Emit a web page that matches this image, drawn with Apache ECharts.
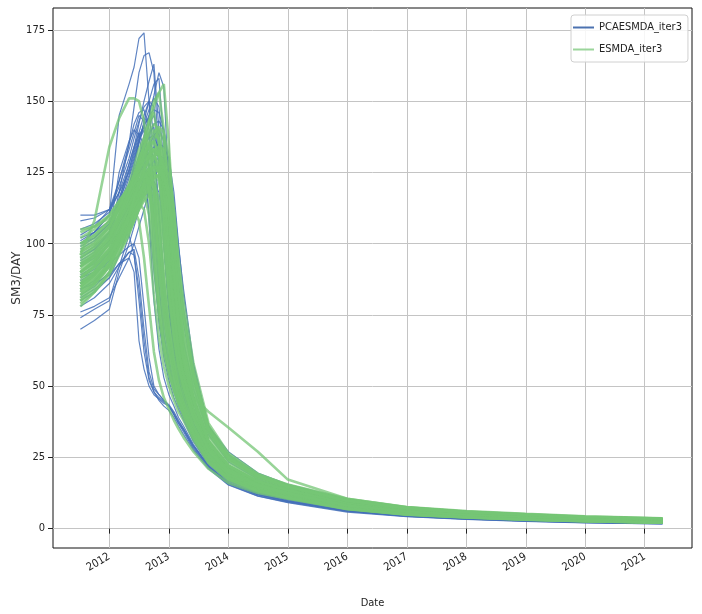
<!DOCTYPE html>
<html>
<head>
<meta charset="utf-8">
<script src="https://cdn.jsdelivr.net/npm/echarts@6/dist/echarts.min.js"></script>
<style>
html,body{margin:0;padding:0;background:#fff;}
#chart{width:702px;height:614px;}
</style>
</head>
<body>
<div id="chart"></div>
<script>
// Sample dates (shared by every ensemble member)
const dates = ['2011-07-07','2011-10-01','2012-01-01','2012-03-01','2012-05-01','2012-06-01','2012-07-01','2012-08-01',
  '2012-09-01','2012-10-01','2012-11-01','2012-12-01','2013-01-01','2013-02-01','2013-03-01','2013-04-01',
  '2013-06-01','2013-09-01','2014-01-01','2014-07-01','2015-01-01','2016-01-01','2017-01-01','2018-01-01',
  '2019-01-01','2020-01-01','2021-04-20'];

const yearTicks = [2012,2013,2014,2015,2016,2017,2018,2019,2020,2021];
const yTicks = [0,25,50,75,100,125,150,175];

// PCAESMDA_iter3 ensemble members (SM3/DAY)
const pcaMembers = [
  [100,104,110,145,156,162,172,174,150,120,95,78,66,56,48,42, 33,24,17.5,13,10.5,7,5.1,4,3.2,2.6,2.1],
  [95,98,103,118,135,148,160,166,167,160,130,100,78,62,52,45, 35,26,18.8,14,11.2,7.4,5.4,4.2,3.4,2.8,2.3],
  [105,107,111,118,128,134,142,150,157,163,140,100,76,62,52,46, 35,25.5,18.5,13.8,11,7.2,5.2,4.1,3.3,2.7,2.2],
  [92,96,101,110,120,127,135,143,150,156,158,135,100,78,63,54, 41,29,21,15.6,12.4,8.1,5.9,4.6,3.7,3.1,2.5],
  [110,110,112,120,130,137,143,148,150,138,110,85,68,57,49,43, 34,25,18.2,13.6,10.9,7.1,5.2,4.1,3.3,2.7,2.2],
  [103,106,112,122,133,139,145,143,128,105,84,68,58,50,44,40, 31.5,23.5,17.2,13,10.5,6.9,5,3.9,3.1,2.6,2.1],
  [98,101,106,112,118,122,125,128,130,131,131,130,127,115,99,84, 58,36,27,19.5,15.5,10.2,7.3,5.8,4.8,4,3.3],
  [90,94,100,107,114,119,124,129,134,138,140,136,122,104,86,72, 52,34,24.5,18,14.5,9.6,7,5.6,4.6,3.8,3.2],
  [84,86,89,93,95,90,66,56,50,47,45.5,44,43,40,37,34, 28,21.5,15.5,11.5,9.3,6,4.3,3.3,2.6,2.1,1.7],
  [78,81,86,92,97,98,88,70,55,49,47,45,43.5,41,38,35, 29,22,16,12,9.6,6.2,4.4,3.4,2.7,2.2,1.8],
  [88,90,93,96,99,100,95,78,60,50,47,45,43,40,37,34.5, 28.5,21.5,15.8,11.8,9.5,6.1,4.4,3.4,2.7,2.2,1.75],
  [70,73,77,90,100,106,112,118,122,118,100,80,65,55,48,42, 33,24,17.5,13.2,10.7,7,5.1,4,3.2,2.6,2.1],
  [74,77,80,92,103,110,117,124,130,133,125,100,78,63,53,46, 36,26,19,14.2,11.4,7.4,5.4,4.2,3.4,2.8,2.3],
  [76,78,81,88,95,100,106,112,118,122,118,102,82,66,55,48, 37,26.5,19.2,14.4,11.6,7.5,5.5,4.3,3.5,2.9,2.3],
  [82,85,90,100,112,120,128,136,142,145,138,115,88,70,58,50, 39,28,20.2,15,12,7.8,5.7,4.5,3.6,3.0,2.4],
  [108,109,112,118,125,131,137,142,144,135,110,86,69,58,50,44, 34.5,25,18.3,13.7,11,7.2,5.2,4.1,3.3,2.7,2.2],
  [86,89,95,104,114,121,128,134,139,141,128,102,80,65,55,48, 37,26.5,19.3,14.4,11.6,7.6,5.5,4.3,3.5,2.9,2.3],
  [100,102,107,116,126,132,138,141,137,118,92,72,60,51,45,41, 32,23.5,17.3,13,10.5,6.9,5,3.9,3.1,2.6,2.1],
  [92,95,100,104,103,96,80,62,52,48,46,44.5,43,40.5,37.5,35, 29,22,16,12,9.7,6.3,4.5,3.5,2.8,2.3,1.8],
  [80,83,88,96,106,113,121,128,134,130,112,88,70,58,50,44, 34.5,25,18.3,13.7,11,7.2,5.2,4.1,3.3,2.7,2.2],
  [96,99,104,113,123,129,136,142,147,151,148,128,98,76,62,53, 40,28.5,20.6,15.3,12.2,8,5.8,4.6,3.7,3.1,2.5],
  [89,92,97,105,115,122,130,138,145,152,160,155,120,90,70,58, 44,30.5,22,16.3,13,8.5,6.2,4.9,4,3.3,2.7],
  [94,97,104,125,136,140,138,128,110,90,74,62,54,48,43,39, 31,23,16.9,12.7,10.3,6.7,4.9,3.8,3.0,2.5,2.0],
  [84,87,92,100,110,118,126,133,138,142,143,140,125,100,80,66, 49,33,23.5,17.4,14,9.2,6.7,5.3,4.3,3.6,3.0],
  [102,104,108,114,121,126,131,135,137,138,133,116,92,74,61,52, 40,28,20.4,15.2,12.2,8,5.8,4.6,3.7,3.1,2.5],
  [81,84,88,93,97,96,84,66,53,48,45,43,41.5,39,36,33, 27.5,21,15.3,11.4,9.1,5.8,4.2,3.2,2.5,2.05,1.65],
  [88,91,97,108,120,128,136,140,125,95,72,60,52,46,42,38, 30.5,22.5,16.6,12.5,10.1,6.6,4.8,3.7,3.0,2.4,1.9],
  [95,98,104,114,126,133,139,134,108,80,63,53,47,43,39,36, 29.5,22,16.2,12.2,9.8,6.4,4.6,3.6,2.9,2.3,1.85],
  [86,89,94,102,112,118,124,128,128,112,86,68,57,50,45,41, 32,23.5,17.2,13,10.5,6.9,5,3.9,3.1,2.6,2.1],
  [93,96,101,108,115,120,125,129,132,134,135,134,130,118,100,82, 57,36,26,19,15.2,10,7.2,5.7,4.7,3.9,3.2],
  [87,90,96,103,110,115,120,124,127,129,130,128,122,108,92,77, 55,35,25.5,18.6,14.8,9.8,7.1,5.6,4.6,3.8,3.2],
  [99,102,107,115,124,130,136,141,145,147,146,140,128,110,92,76, 54,34.5,25,18.3,14.6,9.6,7,5.5,4.5,3.8,3.1],
  [101,104,110,122,135,142,146,147,140,120,95,76,64,55,48,43, 34,25,18.2,13.6,10.9,7.1,5.2,4.1,3.3,2.7,2.2],
  [90,93,100,115,128,134,139,145,150,148,128,100,78,64,54,47, 36,26,19,14.2,11.4,7.4,5.4,4.2,3.4,2.8,2.3]
];

// ESMDA_iter3 ensemble members (SM3/DAY)
const esMembers = [
  [96,108,134,144,151,151,150,143,125,100,80,66,57,50,45,41, 34,25,18.5,14,11.5,7.5,5.4,4.3,3.5,2.9,2.4],
  [90,94,100,108,118,124,130,134,140,148,153,156,135,105,80,64, 46,31,22,16.5,13.4,8.8,6.4,5.1,4.3,3.6,3.1],
  [88,92,98,104,112,118,126,135,143,150,153,140,110,85,66,54, 40,28,20.5,15.5,12.5,8.2,6,4.8,4,3.3,2.8],
  [92,96,102,110,118,124,130,137,143,146,135,110,85,68,56,48, 38,27,20,15,12.3,8,5.8,4.6,3.8,3.2,2.7],
  [80,84,90,97,104,108,112,116,120,123,124,118,100,80,65,55, 42,29,21,16,13,8.5,6.2,5,4.2,3.5,3.0],
  [85,89,95,102,109,113,117,121,125,128,126,112,90,72,59,50, 39,27.5,20,15.2,12.4,8.1,5.9,4.7,3.9,3.2,2.7],
  [90,94,100,106,113,117,121,126,130,133,132,122,105,85,68,57, 44,30,22,16.5,13.4,8.8,6.4,5.1,4.3,3.6,3.1],
  [95,98,104,110,117,121,125,130,134,136,130,112,88,70,58,50, 39,28,20.5,15.5,12.6,8.2,6,4.8,4,3.3,2.8],
  [100,103,108,113,119,123,127,131,134,128,110,88,70,58,50,44, 35,25.5,19,14.5,11.8,7.7,5.6,4.4,3.6,3.0,2.5],
  [83,87,93,100,107,111,115,120,124,120,104,84,68,57,49,43, 34,25,18.5,14,11.5,7.5,5.4,4.3,3.5,2.9,2.4],
  [87,91,97,104,111,116,121,126,129,131,128,118,98,78,63,53, 41,28.5,21,15.8,12.8,8.4,6.1,4.9,4.1,3.4,2.9],
  [92,95,101,108,115,120,125,130,135,138,137,130,115,92,73,60, 46,31,22.5,17,13.8,9,6.6,5.3,4.4,3.7,3.2],
  [97,100,106,112,118,122,126,129,132,133,131,125,112,95,78,64, 50,34,24.5,18,14.5,9.7,7.1,5.7,4.8,4.0,3.4],
  [102,105,110,115,120,123,126,129,131,132,131,128,120,104,86,70, 55,36,26,19,15.5,10.5,7.6,6.2,5.2,4.3,3.6],
  [80,85,92,99,106,111,115,119,122,124,124,120,108,90,74,62, 48,32.5,23.5,17.5,14,9.4,6.9,5.5,4.6,3.9,3.3],
  [84,88,94,101,107,111,114,117,118,112,96,78,64,54,47,42, 33,24.5,18,13.8,11.3,7.3,5.3,4.2,3.4,2.8,2.3],
  [89,93,99,106,113,118,122,125,126,122,108,90,73,60,51,45, 36,26,19.2,14.6,11.9,7.8,5.7,4.5,3.7,3.1,2.6],
  [94,97,103,109,115,119,123,127,130,131,125,108,86,70,59,51, 40,28,20.5,15.4,12.5,8.2,6,4.8,4,3.3,2.8],
  [99,102,107,113,119,124,129,134,139,142,140,128,104,82,66,55, 42,29,21.2,16,13,8.6,6.3,5,4.2,3.5,3.0],
  [86,90,96,103,110,114,118,122,125,127,125,115,96,76,60,50, 46,41,35.5,27,17.2,10.5,7.5,5.8,4.8,4.0,3.4],
  [78,83,90,97,104,108,112,115,117,118,114,100,80,65,55,48, 37,26.5,19.5,14.8,12,7.8,5.6,4.5,3.7,3.1,2.6],
  [82,86,92,99,106,111,116,121,126,130,133,128,108,86,69,58, 45,30.5,22,16.6,13.5,8.9,6.5,5.2,4.4,3.7,3.1],
  [104,106,110,115,120,124,128,132,135,136,132,118,95,76,63,54, 42,29,21.2,16,13,8.5,6.2,5,4.2,3.5,2.9],
  [91,95,101,108,114,117,119,120,118,108,90,74,62,53,46,41, 32,23.5,17.5,13.4,11,7.1,5.1,4.1,3.3,2.7,2.2],
  [88,92,98,105,110,112,108,95,78,62,52,46,42,38,35,32, 27,21,16,12.5,10.5,6.8,4.9,3.9,3.1,2.6,2.1],
  [95,99,105,112,119,124,129,134,138,140,136,120,96,77,63,54, 41,28.5,21,15.8,12.8,8.4,6.1,4.9,4.1,3.4,2.9],
  [86,90,96,102,108,112,116,120,123,125,122,110,92,75,62,53, 41,28.5,20.8,15.7,12.7,8.3,6,4.8,4,3.3,2.8],
  [93,96,102,108,114,118,121,124,126,127,126,122,110,93,76,63, 49,33,24,17.8,14.3,9.5,7,5.6,4.7,3.9,3.3],
  [81,86,93,100,107,112,117,122,127,131,132,126,110,89,71,59, 45,30.5,22,16.5,13.4,8.8,6.4,5.1,4.3,3.6,3.1],
  [98,101,106,112,117,120,122,123,121,112,96,80,67,57,50,44, 35,25.5,18.8,14.3,11.7,7.6,5.5,4.4,3.6,3.0,2.5],
  [90,93,98,104,110,114,118,122,125,127,127,124,116,100,82,67, 52,35,25,18.5,15,10,7.3,5.9,5,4.1,3.5],
  [85,89,95,101,108,113,119,125,131,136,140,136,118,92,72,59, 45,30.5,22,16.5,13.4,8.8,6.4,5.1,4.3,3.6,3.1],
  [88,92,97,103,109,113,117,121,124,126,127,127,124,112,95,80, 58,37,26.5,19.3,15.3,10.3,7.5,6,5,4.2,3.5],
  [96,99,104,110,116,120,124,128,131,133,134,133,126,110,92,76, 55,35.5,25.5,18.8,15,10,7.3,5.9,4.9,4.1,3.4],
  [83,87,93,100,106,110,114,118,121,123,124,124,119,106,89,74, 54,35,25,18.5,14.8,9.9,7.2,5.8,4.8,4.0,3.4],
  [90,94,100,106,112,115,118,118,110,92,75,63,55,49,44,40, 32,23.5,17.5,13.4,11,7.1,5.1,4.1,3.3,2.7,2.2],
  [86,90,96,103,110,115,120,124,125,115,95,77,64,55,48,43, 34,25,18.5,14,11.5,7.4,5.4,4.3,3.5,2.9,2.4],
  [100,103,108,114,120,124,128,132,134,133,125,105,84,68,57,50, 39,28,20.5,15.5,12.6,8.2,6,4.8,4,3.3,2.8],
  [79,83,89,96,103,108,113,118,122,125,126,124,116,100,82,68, 52,34,24.5,18.2,14.6,9.7,7.1,5.7,4.8,4.0,3.4],
  [93,97,103,109,116,121,126,131,136,139,141,139,130,112,92,75, 54,35,25,18.5,14.8,9.9,7.2,5.8,4.8,4.0,3.4],
  [105,106,109,113,118,121,124,126,126,120,104,86,71,60,52,46, 36,26,19.2,14.6,11.9,7.8,5.7,4.5,3.7,3.1,2.6],
  [84,88,93,99,105,109,113,117,120,121,116,100,82,67,57,50, 39,27.5,20,15.2,12.4,8.1,5.9,4.7,3.9,3.2,2.7],
  [92,96,102,110,118,123,127,128,118,96,76,62,54,48,44,40, 32,23.5,17.5,13.3,10.9,7,5.1,4,3.2,2.7,2.2],
  [85,89,95,102,110,116,121,125,122,104,82,66,56,49,44,40, 32,23.5,17.3,13.2,10.8,7,5,4,3.2,2.6,2.1],
  [97,100,106,113,121,127,133,137,135,118,92,72,60,52,46,42, 33,24,17.8,13.6,11.1,7.2,5.2,4.1,3.3,2.7,2.2],
  [82,86,92,99,106,111,114,112,100,82,67,57,50,45,41,38, 31,23,17,13,10.7,6.9,5,3.9,3.1,2.6,2.1]
];

const BLUE = 'rgba(68,112,184,0.85)';
const GREEN = 'rgba(118,197,118,0.75)';
const FONT = "'DejaVu Sans Condensed','DejaVu Sans',sans-serif";

// date string -> decimal year (position on the x scale)
function decYear(s) {
  const p = s.split('-').map(Number);
  const start = Date.UTC(p[0], 0, 1), end = Date.UTC(p[0] + 1, 0, 1);
  return p[0] + (Date.UTC(p[0], p[1] - 1, p[2]) - start) / (end - start);
}
const xs = dates.map(decYear);

function toSeries(members, name, color, width) {
  return members.map(m => ({
    name: name,
    type: 'line',
    showSymbol: false,
    symbol: 'none',
    silent: true,
    data: m.map((v, i) => [xs[i], v]),
    lineStyle: { color: color, width: width },
    itemStyle: { color: color },
    emphasis: { disabled: true }
  }));
}

const chart = echarts.init(document.getElementById('chart'), null, { renderer: 'canvas' });
chart.setOption({
  animation: false,
  backgroundColor: '#fff',
  grid: { left: 53, top: 8, width: 639, height: 540, outerBoundsMode: 'none', containLabel: false,
    show: true, borderColor: '#111', borderWidth: 1, backgroundColor: 'transparent' },
  legend: {
    data: [
      { name: 'PCAESMDA_iter3', itemStyle: { color: '#4c72b0' } },
      { name: 'ESMDA_iter3', itemStyle: { color: '#9bd59b' } }
    ],
    orient: 'vertical', left: 571, top: 15,
    icon: 'rect', itemWidth: 21, itemHeight: 2, itemGap: 11,
    padding: [7, 6, 7, 2],
    backgroundColor: 'rgba(255,255,255,0.85)', borderColor: '#d0d0d0', borderWidth: 1, borderRadius: 3,
    textStyle: { fontFamily: FONT, fontSize: 11, color: '#222' },
    selectedMode: false
  },
  xAxis: {
    type: 'value',
    min: 2011.052, max: 2021.795,
    name: 'Date', nameLocation: 'middle', nameGap: 50, nameMoveOverlap: false,
    nameTextStyle: { fontFamily: FONT, fontSize: 11, color: '#222' },
    axisLine: { show: false },
    axisTick: { show: true, length: 5, lineStyle: { color: '#222' }, customValues: yearTicks },
    axisLabel: { rotate: 30, fontFamily: FONT, fontSize: 11, color: '#222', margin: 8,
      customValues: yearTicks, formatter: v => String(Math.round(v)) },
    splitLine: { show: true, lineStyle: { color: '#c4c4c4', width: 1 } }
  },
  yAxis: {
    type: 'value',
    min: -6.8, max: 182.7,
    name: 'SM3/DAY', nameLocation: 'middle', nameGap: 30, nameRotate: 90, nameMoveOverlap: false,
    nameTextStyle: { fontFamily: "'DejaVu Sans',sans-serif", fontSize: 12, color: '#333' },
    axisLine: { show: false },
    axisTick: { show: true, length: 5, lineStyle: { color: '#222' }, customValues: yTicks },
    axisLabel: { fontFamily: FONT, fontSize: 11, color: '#222', margin: 8, customValues: yTicks },
    splitLine: { show: true, lineStyle: { color: '#c4c4c4', width: 1 } }
  },
  series: [].concat(
    toSeries(pcaMembers, 'PCAESMDA_iter3', BLUE, 1.2),
    toSeries(esMembers, 'ESMDA_iter3', GREEN, 2.6)
  )
});
</script>
</body>
</html>
